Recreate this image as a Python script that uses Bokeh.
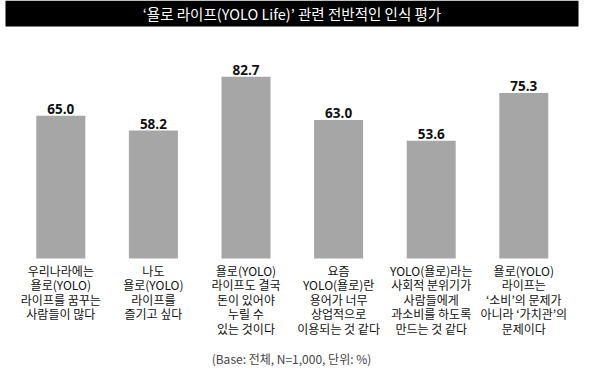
from bokeh.plotting import figure
from bokeh.models import Range1d, ColumnDataSource, BoxAnnotation, Label
from bokeh.core.properties import value
from bokeh.embed import file_html
from bokeh.resources import INLINE

title_text = "‘욜로 라이프(YOLO Life)’ 관련 전반적인 인식 평가"
categories = [
    "우리나라에는\n욜로(YOLO)\n라이프를 꿈꾸는\n사람들이 많다",
    "나도\n욜로(YOLO)\n라이프를\n즐기고 싶다",
    "욜로(YOLO)\n라이프도 결국\n돈이 있어야\n누릴 수\n있는 것이다",
    "요즘\nYOLO(욜로)란\n용어가 너무\n상업적으로\n이용되는 것 같다",
    "YOLO(욜로)라는\n사회적 분위기가\n사람들에게\n과소비를 하도록\n만드는 것 같다",
    "욜로(YOLO)\n라이프는\n‘소비’의 문제가\n아니라 ‘가치관’의\n문제이다",
]
values = [65.0, 58.2, 82.7, 63.0, 53.6, 75.3]
note_text = "(Base: 전체, N=1,000, 단위: %)"

W, H = 584, 368
PX_X = 92.6          # pixels per category
C0 = 60.3            # first category centre (px)
PX_Y = 2.198         # pixels per percent
BASE = 258.0         # baseline (px from top)

def ydata(py):
    return (BASE - py) / PX_Y

xs = list(range(len(values)))
src = ColumnDataSource(dict(
    x=xs, top=values, cat=categories,
    lab=[f"{v:.1f}" for v in values],
))

p = figure(width=W, height=H, output_backend="svg", toolbar_location=None,
           x_range=Range1d(-C0 / PX_X, (W - C0) / PX_X),
           y_range=Range1d(ydata(H), ydata(0)),
           min_border=0, outline_line_color=None)
p.axis.visible = False
p.grid.visible = False
p.background_fill_color = "white"
p.border_fill_color = "white"

p.vbar(x="x", top="top", bottom=0, width=49 / PX_X, source=src,
       fill_color="#A6A6A6", line_color=None)

p.text(x="x", y="top", text="lab", source=src, text_align="center",
       text_baseline="alphabetic", y_offset=-7,
       text_font=value("Open Sans"), text_font_style="bold",
       text_font_size="13.5px", text_color="#111111")

p.text(x="x", y=ydata(261), text="cat", source=src, text_align="center",
       text_baseline="top", text_font=value("Noto Sans CJK KR"),
       text_font_size="12px", text_line_height=0.86, text_color="#111111")

box = BoxAnnotation(left=5, right=578, left_units="screen", right_units="screen",
                    top=ydata(0), bottom=ydata(26),
                    fill_color="black", fill_alpha=1.0, line_color=None)
p.add_layout(box)

p.add_layout(Label(x=291.5, x_units="screen", y=ydata(13), text=title_text,
                   text_align="center", text_baseline="middle",
                   text_font="Noto Sans CJK KR", text_font_size="14.5px",
                   text_font_style="normal", text_color="white"))

p.add_layout(Label(x=291, x_units="screen", y=ydata(366), text=note_text,
                   text_align="center", text_baseline="bottom",
                   text_font="Noto Sans CJK KR", text_font_size="12px",
                   text_color="#444444"))

open("out.html", "w").write(file_html(p, INLINE))
